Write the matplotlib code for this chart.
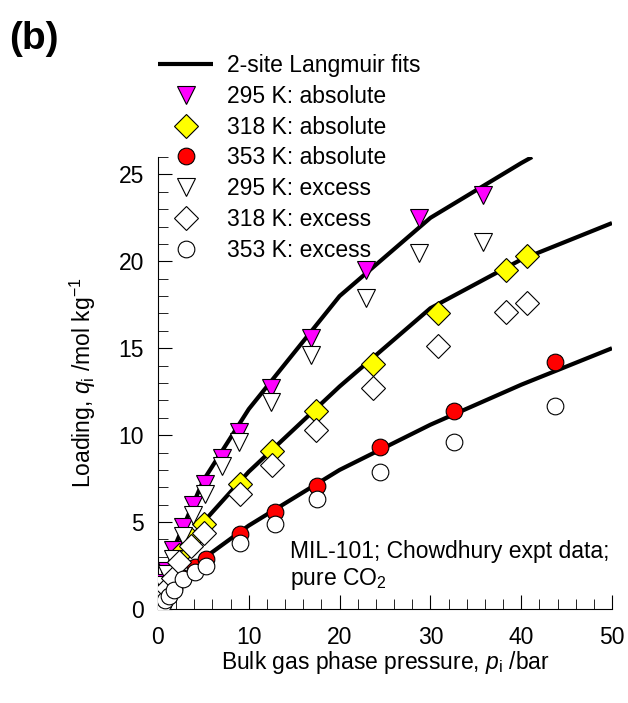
import matplotlib
matplotlib.use("Agg")
import matplotlib.pyplot as plt
from matplotlib.ticker import MultipleLocator

plt.rcParams['font.family'] = ['Liberation Sans', 'DejaVu Sans']
plt.rcParams['mathtext.fontset'] = 'custom'
plt.rcParams['mathtext.rm'] = 'Liberation Sans'
plt.rcParams['mathtext.it'] = 'Liberation Sans:italic'

FS = 16.5

# 295 K
p295 = [0.1, 0.3, 0.6, 1.0, 1.7, 2.7, 3.9, 5.2, 7.1, 8.9, 12.4, 16.8, 22.9, 28.7, 35.8]
q295_abs = [0.3, 0.8, 1.5, 2.2, 3.4, 4.7, 6.0, 7.2, 8.7, 10.2, 12.7, 15.6, 19.5, 22.5, 23.8]
q295_exc = [0.3, 0.8, 1.4, 2.0, 2.9, 4.2, 5.4, 6.6, 8.2, 9.6, 11.9, 14.6, 17.9, 20.5, 21.1]

# 318 K
p318 = [0.1, 0.3, 0.6, 1.0, 1.6, 2.3, 3.6, 5.1, 9.0, 12.6, 17.4, 23.7, 30.8, 38.3, 40.6]
q318_abs = [0.2, 0.5, 0.9, 1.4, 2.1, 3.1, 4.0, 4.9, 7.2, 9.1, 11.4, 14.1, 17.0, 19.5, 20.3]
q318_exc = [0.2, 0.4, 0.8, 1.2, 1.8, 2.7, 3.6, 4.4, 6.6, 8.3, 10.3, 12.7, 15.1, 17.1, 17.6]

# 353 K
p353 = [0.1, 0.25, 0.5, 0.8, 1.2, 1.8, 2.8, 4.1, 5.3, 9.0, 12.9, 17.5, 24.5, 32.6, 43.7]
q353_abs = [0.1, 0.2, 0.35, 0.55, 0.8, 1.2, 1.8, 2.4, 2.9, 4.3, 5.6, 7.1, 9.3, 11.4, 14.2]
q353_exc = [0.1, 0.2, 0.3, 0.5, 0.75, 1.1, 1.7, 2.1, 2.5, 3.8, 4.9, 6.3, 7.9, 9.6, 11.7]

# dual-site Langmuir fit curves (absolute loading)
p_fit295 = [0, 0.5, 1, 2, 3, 5, 10, 20, 30, 40, 41.2]
q295_fit = [0, 1.2, 2.2, 3.8, 5.0, 7.4, 11.5, 18.0, 22.5, 25.65, 26.0]
p_fit = [0, 0.5, 1, 2, 3, 5, 10, 20, 30, 40, 50]
q318_fit = [0, 0.7, 1.4, 2.6, 3.5, 5.0, 7.9, 12.8, 17.3, 20.1, 22.2]
q353_fit = [0, 0.35, 0.7, 1.3, 1.9, 2.9, 4.8, 8.0, 10.6, 12.9, 15.0]

fig = plt.figure(figsize=(6.28, 7.03), dpi=100)
ax = fig.add_axes([158 / 628, 1 - 609 / 703, (612 - 158) / 628, (609 - 157) / 703])

fit_kw = dict(color='black', lw=3, solid_capstyle='butt', zorder=2)
ax.plot(p_fit295, q295_fit, label='2-site Langmuir fits', **fit_kw)
ax.plot(p_fit, q318_fit, **fit_kw)
ax.plot(p_fit, q353_fit, **fit_kw)

mk = dict(ls='none', markeredgecolor='black', markeredgewidth=0.8, zorder=3)
ax.plot(p295, q295_abs, 'v', ms=13, markerfacecolor='magenta', label='295 K: absolute', **mk)
ax.plot(p318, q318_abs, 'D', ms=12, markerfacecolor='yellow', label='318 K: absolute', **mk)
ax.plot(p353, q353_abs, 'o', ms=12, markerfacecolor='red', label='353 K: absolute', **mk)
ax.plot(p295, q295_exc, 'v', ms=13, markerfacecolor='white', label='295 K: excess', **mk)
ax.plot(p318, q318_exc, 'D', ms=12, markerfacecolor='white', label='318 K: excess', **mk)
ax.plot(p353, q353_exc, 'o', ms=12, markerfacecolor='white', label='353 K: excess', **mk)

ax.set_xlim(0, 50)
ax.set_ylim(0, 26)
for s in ['top', 'right']:
    ax.spines[s].set_visible(False)
ax.xaxis.set_major_locator(MultipleLocator(10))
ax.xaxis.set_minor_locator(MultipleLocator(2))
ax.yaxis.set_major_locator(MultipleLocator(5))
ax.yaxis.set_minor_locator(MultipleLocator(1))
ax.tick_params(which='both', direction='in', labelsize=FS)
ax.tick_params(axis='x', pad=12)
ax.tick_params(axis='y', pad=10)
ax.tick_params(which='major', length=10)
ax.tick_params(which='minor', length=7)

ax.set_xlabel('Bulk gas phase pressure, $p_\\mathrm{i}$ /bar', fontsize=FS, labelpad=0)
ax.set_ylabel('Loading, $q_\\mathrm{i}$ /mol kg$^{-1}$', fontsize=FS, labelpad=15)

ax.text(0.29, (609 - 540) / 452, 'MIL-101; Chowdhury expt data;\npure CO$_2$', transform=ax.transAxes,
        fontsize=FS, linespacing=1.15, va='top')

fig.text(9 / 628, 1 - 21 / 703, '(b)', fontsize=28, fontweight='bold', va='top')

ax.legend(loc='upper left', bbox_to_anchor=(158 / 628, 1 - 54 / 703), bbox_transform=fig.transFigure,
          frameon=False, fontsize=FS, handlelength=2.4, handletextpad=0.6, labelspacing=0.34,
          borderpad=0, borderaxespad=0)

fig.savefig('out.png', dpi=100)
